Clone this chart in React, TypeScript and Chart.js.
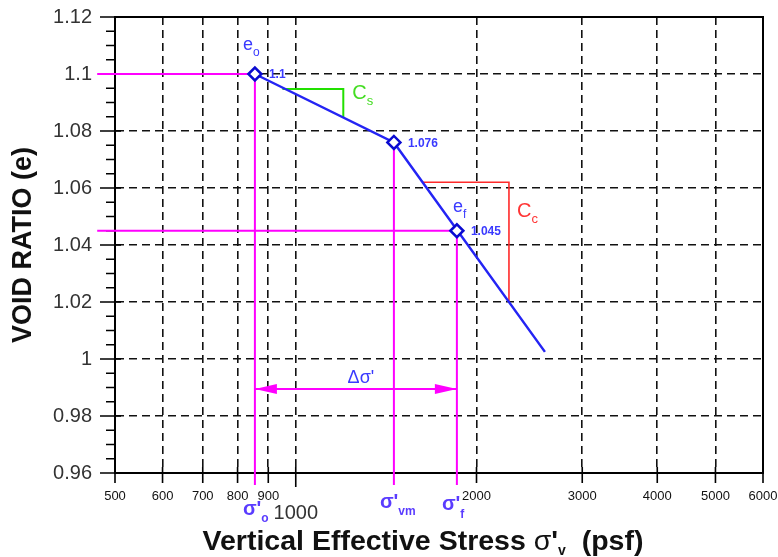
import React, { useEffect, useRef } from 'react';
import { Chart, registerables } from 'chart.js';

Chart.register(...registerables);

// ---- data ----
const xTickValues = [500, 600, 700, 800, 900, 1000, 2000, 3000, 4000, 5000, 6000];
const xTickLabels = ['500', '600', '700', '800', '900', '1000', '2000', '3000', '4000', '5000', '6000'];
const yTickValues = [0.96, 0.98, 1.0, 1.02, 1.04, 1.06, 1.08, 1.1, 1.12];
const yTickLabels = ['0.96', '0.98', '1', '1.02', '1.04', '1.06', '1.08', '1.1', '1.12'];
const yMinorStep = 0.005;

// key points: σ'o, σ'vm, σ'f
const keyStress = [855, 1457, 1855];
const keyVoid = [1.1, 1.076, 1.045];
const keyLabels = ['1.1', '1.076', '1.045'];

// e-log p curve
const curveStress = [855, 1457, 2600];
const curveVoid = [1.1, 1.076, 1.0025];

// slope triangles
const csStress = [950, 1200, 1200];
const csVoid = [1.0947, 1.0947, 1.0847];
const ccStress = [1627, 2265, 2265];
const ccVoid = [1.062, 1.062, 1.02];

// guide extents
const guideLeftStress = 467;
const guideBottomVoid = 0.9558;
const deltaArrowVoid = 0.9895;

const FONT = '"Liberation Sans", Arial, Helvetica, sans-serif';
const BLUE_TXT = '#3a3aff';
const SIGMA_TXT = '#5a3cff';
const MAGENTA = '#ff00ff';

function pts(xs: number[], ys: number[]) {
  return xs.map((x, i) => ({ x, y: ys[i] }));
}

function subText(ctx: CanvasRenderingContext2D, main: string, sub: string, x: number, y: number,
  mainFont: string, subFont: string, color: string, dy: number) {
  ctx.fillStyle = color;
  ctx.textAlign = 'left';
  ctx.textBaseline = 'alphabetic';
  ctx.font = mainFont;
  ctx.fillText(main, x, y);
  const w = ctx.measureText(main).width;
  ctx.font = subFont;
  ctx.fillText(sub, x + w, y + dy);
  return x + w + ctx.measureText(sub).width;
}

const annotPlugin = {
  id: 'annot',
  beforeDatasetsDraw(chart: any) {
    const { ctx, chartArea: a, scales } = chart;
    const x = scales.x, y = scales.y;
    ctx.save();
    ctx.setLineDash([]);
    ctx.strokeStyle = '#000';
    ctx.lineWidth = 2;
    ctx.strokeRect(a.left, a.top, a.right - a.left, a.bottom - a.top);
    ctx.lineWidth = 1.6;
    ctx.beginPath();
    xTickValues.forEach((v) => {
      const px = x.getPixelForValue(v);
      ctx.moveTo(px, a.bottom - 6);
      ctx.lineTo(px, a.bottom + (v === 1000 ? 14 : 10));
    });
    for (let k = 0; ; k++) {
      const v = y.min + k * yMinorStep;
      if (v > y.max + 1e-9) break;
      const py = y.getPixelForValue(v);
      const major = k % 4 === 0;
      ctx.moveTo(a.left - (major ? 15 : 9), py);
      ctx.lineTo(a.left + (major ? 6 : 0), py);
    }
    ctx.stroke();
    ctx.restore();
  },
  afterDatasetsDraw(chart: any) {
    const { ctx, chartArea: a, scales } = chart;
    const x = scales.x, y = scales.y;
    const P = (s: number, e: number) => ({ x: x.getPixelForValue(s), y: y.getPixelForValue(e) });
    ctx.save();
    ctx.setLineDash([]);

    // arrowheads of Δσ'
    const a0 = P(keyStress[0], deltaArrowVoid);
    const a1 = P(keyStress[2], deltaArrowVoid);
    ctx.fillStyle = MAGENTA;
    ctx.beginPath();
    ctx.moveTo(a0.x, a0.y);
    ctx.lineTo(a0.x + 22, a0.y - 5);
    ctx.lineTo(a0.x + 22, a0.y + 5);
    ctx.closePath();
    ctx.moveTo(a1.x, a1.y);
    ctx.lineTo(a1.x - 22, a1.y - 5);
    ctx.lineTo(a1.x - 22, a1.y + 5);
    ctx.closePath();
    ctx.fill();

    ctx.font = '18px ' + FONT;
    ctx.fillStyle = BLUE_TXT;
    ctx.textAlign = 'center';
    ctx.textBaseline = 'alphabetic';
    ctx.fillText("Δσ'", (a0.x + a1.x) / 2 + 5, a0.y - 6);

    // value labels
    keyLabels.forEach((s, i) => {
      const p = P(keyStress[i], keyVoid[i]);
      ctx.font = 'bold 12px ' + FONT;
      ctx.fillStyle = BLUE_TXT;
      ctx.textAlign = 'left';
      ctx.textBaseline = 'middle';
      ctx.fillText(s, p.x + 14, p.y + 1);
    });

    const p0 = P(keyStress[0], keyVoid[0]);
    const p1 = P(keyStress[1], keyVoid[1]);
    const p2 = P(keyStress[2], keyVoid[2]);
    subText(ctx, 'e', 'o', p0.x - 12, p0.y - 24, '18px ' + FONT, '12px ' + FONT, BLUE_TXT, 6);
    subText(ctx, 'e', 'f', p2.x - 4, p2.y - 19, '18px ' + FONT, '12px ' + FONT, BLUE_TXT, 6);

    const cs = P(csStress[1], csVoid[1]);
    subText(ctx, 'C', 's', cs.x + 9, cs.y + 10, '20px ' + FONT, '13px ' + FONT, '#44dd22', 6);
    const cc = P(ccStress[1], ccVoid[1]);
    subText(ctx, 'C', 'c', cc.x + 8, cc.y + 35, '20px ' + FONT, '13px ' + FONT, '#ff3535', 6);

    // bottom stress labels
    const b = a.bottom;
    subText(ctx, "σ'", 'o', p0.x - 12, b + 42, 'bold 20px ' + FONT, 'bold 12px ' + FONT, SIGMA_TXT, 7);
    subText(ctx, "σ'", 'vm', p1.x - 14, b + 35, 'bold 20px ' + FONT, 'bold 12px ' + FONT, SIGMA_TXT, 7);
    subText(ctx, "σ'", 'f', p2.x - 15, b + 37, 'bold 20px ' + FONT, 'bold 12px ' + FONT, SIGMA_TXT, 8);

    // large 1000 tick label
    ctx.font = '20px ' + FONT;
    ctx.fillStyle = '#333';
    ctx.textAlign = 'center';
    ctx.textBaseline = 'alphabetic';
    ctx.fillText(xTickLabels[xTickValues.indexOf(1000)], x.getPixelForValue(1000), b + 46);

    // x axis title with subscript
    const bigB = 'bold 28.5px ' + FONT;
    const bigR = '28.5px ' + FONT;
    const subF = 'bold 14px ' + FONT;
    const parts = [
      { t: 'Vertical Effective Stress ', f: bigB, dy: 0 },
      { t: 'σ', f: bigR, dy: 0 },
      { t: "'", f: bigB, dy: 0 },
      { t: 'v', f: subF, dy: 5 },
      { t: '  (psf)', f: bigB, dy: 0 },
    ];
    let total = 0;
    parts.forEach((p) => { ctx.font = p.f; total += ctx.measureText(p.t).width; });
    let cx = 423 - total / 2;
    ctx.fillStyle = '#111';
    ctx.textAlign = 'left';
    parts.forEach((p) => {
      ctx.font = p.f;
      ctx.fillText(p.t, cx, b + 77 + p.dy);
      cx += ctx.measureText(p.t).width;
    });
    ctx.restore();
  },
};

export default function App() {
  const ref = useRef<HTMLCanvasElement>(null);
  useEffect(() => {
    const canvas = ref.current;
    if (!canvas) return;
    const guide = (data: any[]) => ({
      data, showLine: true, borderColor: MAGENTA, borderWidth: 2, pointRadius: 0, clip: false, fill: false,
    });
    const chart = new Chart(canvas, {
      type: 'scatter',
      data: {
        datasets: [
          {
            label: 'points', data: pts(keyStress, keyVoid), pointStyle: 'rectRot', pointRadius: 6.5,
            borderColor: '#0a0ad0', borderWidth: 2.5, backgroundColor: '#ffffff', showLine: false, clip: false,
          } as any,
          {
            label: 'curve', data: pts(curveStress, curveVoid), showLine: true, borderColor: '#2424f4',
            borderWidth: 2.5, pointRadius: 0,
          },
          { label: 'Cs', data: pts(csStress, csVoid), showLine: true, borderColor: '#22e000', borderWidth: 2, pointRadius: 0 },
          { label: 'Cc', data: pts(ccStress, ccVoid), showLine: true, borderColor: '#ff2a2a', borderWidth: 1.6, pointRadius: 0 },
          guide([{ x: guideLeftStress, y: keyVoid[0] }, { x: keyStress[0], y: keyVoid[0] }, { x: keyStress[0], y: guideBottomVoid }]),
          guide([{ x: keyStress[1], y: keyVoid[1] }, { x: keyStress[1], y: guideBottomVoid }]),
          guide([{ x: guideLeftStress, y: keyVoid[2] }, { x: keyStress[2], y: keyVoid[2] }, { x: keyStress[2], y: guideBottomVoid }]),
          guide([{ x: keyStress[0], y: deltaArrowVoid }, { x: keyStress[2], y: deltaArrowVoid }]),
        ] as any,
      },
      options: {
        responsive: false,
        animation: false,
        devicePixelRatio: 1,
        layout: { padding: { top: 17, right: 15, left: 0, bottom: 0 } },
        plugins: { legend: { display: false }, tooltip: { enabled: false } },
        scales: {
          x: {
            type: 'logarithmic',
            position: 'bottom',
            min: 500,
            max: 6000,
            afterBuildTicks: (s: any) => { s.ticks = xTickValues.map((v) => ({ value: v })); },
            afterFit: (s: any) => { s.height = 84; s.paddingLeft = 0; s.paddingRight = 0; },
            ticks: {
              autoSkip: false, maxRotation: 0, minRotation: 0, padding: 16,
              font: { family: FONT, size: 13 }, color: '#111',
              callback: (v: any) => {
                const i = xTickValues.indexOf(Number(v));
                return i < 0 || xTickValues[i] === 1000 ? '' : xTickLabels[i];
              },
            },
            grid: { color: '#111', lineWidth: 1.6, drawTicks: false },
            border: { display: true, color: '#000', width: 2, dash: [8, 5] },
          },
          y: {
            type: 'linear',
            min: 0.96,
            max: 1.12,
            afterBuildTicks: (s: any) => { s.ticks = yTickValues.map((v) => ({ value: v })); },
            afterFit: (s: any) => { s.width = 115; s.paddingTop = 0; s.paddingBottom = 0; },
            ticks: {
              padding: 23, font: { family: FONT, size: 20 }, color: '#333',
              callback: (v: any) => {
                const i = yTickValues.findIndex((t) => Math.abs(t - Number(v)) < 1e-9);
                return i < 0 ? '' : yTickLabels[i];
              },
            },
            grid: { color: '#111', lineWidth: 1.6, drawTicks: false },
            border: { display: true, color: '#000', width: 2, dash: [8, 5] },
            title: {
              display: true, text: 'VOID RATIO (e)', color: '#111',
              font: { family: FONT, size: 27, weight: 'bold' }, padding: { top: 7, bottom: 0 },
            },
          },
        },
      } as any,
      plugins: [annotPlugin],
    });
    return () => chart.destroy();
  }, []);
  return (
    <div style={{ position: 'fixed', left: 0, top: 0, width: 778, height: 557, background: '#fff' }}>
      <canvas ref={ref} width={778} height={557} style={{ display: 'block' }} />
    </div>
  );
}
